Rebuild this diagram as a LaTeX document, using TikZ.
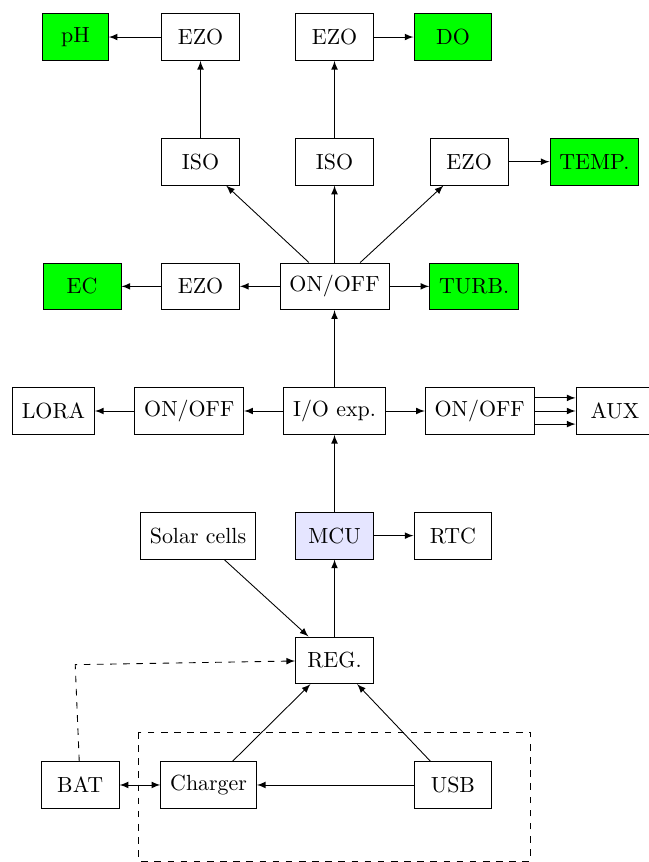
\documentclass[tikz,border=0pt]{standalone}
\usepackage{amsmath}
\usepackage{tikz}

\begin{document}
\begin{tikzpicture}[>=latex,
    box/.style={draw, minimum width=1.25cm, minimum height=0.75cm, inner xsep=4.3pt},
    sensor/.style={box, fill=green},
    link/.style={->}]
        \useasboundingbox (-5.367,0.594) rectangle (5.03,-13.236);

        % Sensors and their EZO / ISO boards
        \node[sensor, minimum width=1.05cm] (ph) at (-4.155,0) {pH};
        \node[box] (ezoph) at (-2.15,0) {EZO};
        \node[box] (ezodo) at (0,0) {EZO};
        \node[sensor] (do) at (1.9,0) {DO};
        \node[box] (isoph) at (-2.15,-2) {ISO};
        \node[box] (isodo) at (0,-2) {ISO};
        \node[box] (ezotemp) at (2.16,-2) {EZO};
        \node[sensor] (temp) at (4.17,-2) {TEMP.};
        \node[sensor] (ec) at (-4.05,-4) {EC};
        \node[box] (ezoec) at (-2.15,-4) {EZO};
        \node[box] (onoffs) at (0,-4) {ON/OFF};
        \node[sensor] (turb) at (2.24,-4) {TURB.};

        % I/O expander with its switches
        \node[box] (lora) at (-4.51,-6) {LORA};
        \node[box] (onoffl) at (-2.33,-6) {ON/OFF};
        \node[box] (ioexp) at (0,-6) {I/O exp.};
        \node[box] (onoffa) at (2.33,-6) {ON/OFF};
        \node[box] (aux) at (4.5,-6) {AUX};

        % Controller and power supply
        \node[box] (solar) at (-2.19,-8) {Solar cells};
        \node[box, fill=blue!10] (mcu) at (0,-8) {MCU};
        \node[box] (rtc) at (1.9,-8) {RTC};
        \node[box] (reg) at (0,-10) {REG.};
        \node[box] (bat) at (-4.08,-12) {BAT};
        \node[box] (charger) at (-2.02,-12) {Charger};
        \node[box] (usb) at (1.9,-12) {USB};

        % Connections in the sensor part
        \draw[link] (ezoph) -- (ph);
        \draw[link] (ezodo) -- (do);
        \draw[link] (isoph) -- (ezoph);
        \draw[link] (isodo) -- (ezodo);
        \draw[link] (ezotemp) -- (temp);
        \draw[link] (onoffs) -- (isoph);
        \draw[link] (onoffs) -- (isodo);
        \draw[link] (onoffs) -- (ezotemp);
        \draw[link] (onoffs) -- (ezoec);
        \draw[link] (ezoec) -- (ec);
        \draw[link] (onoffs) -- (turb);

        % Connections of the I/O expander
        \draw[link] (ioexp) -- (onoffs);
        \draw[link] (ioexp) -- (onoffl);
        \draw[link] (onoffl) -- (lora);
        \draw[link] (ioexp) -- (onoffa);
        \foreach \dy in {-0.21,0,0.21}
            \draw[link] ([yshift=\dy cm]onoffa.east) -- ([yshift=\dy cm]aux.west);

        % Controller and power connections
        \draw[link] (mcu) -- (ioexp);
        \draw[link] (mcu) -- (rtc);
        \draw[link] (reg) -- (mcu);
        \draw[link] (solar) -- (reg);
        \draw[link] (charger) -- (reg);
        \draw[link] (usb) -- (reg);
        \draw[link] (usb) -- (charger);
        \draw[<->] (bat) -- (charger);

        % Battery line to the regulator
        \coordinate (batup) at (-4.16,-10.07);
        \draw[link, dashed] (bat) -- (batup) -- (reg);

        % Charger board outline
        \draw[dashed] (-3.14,-11.15) rectangle (3.14,-13.22);
    \end{tikzpicture}
\end{document}
